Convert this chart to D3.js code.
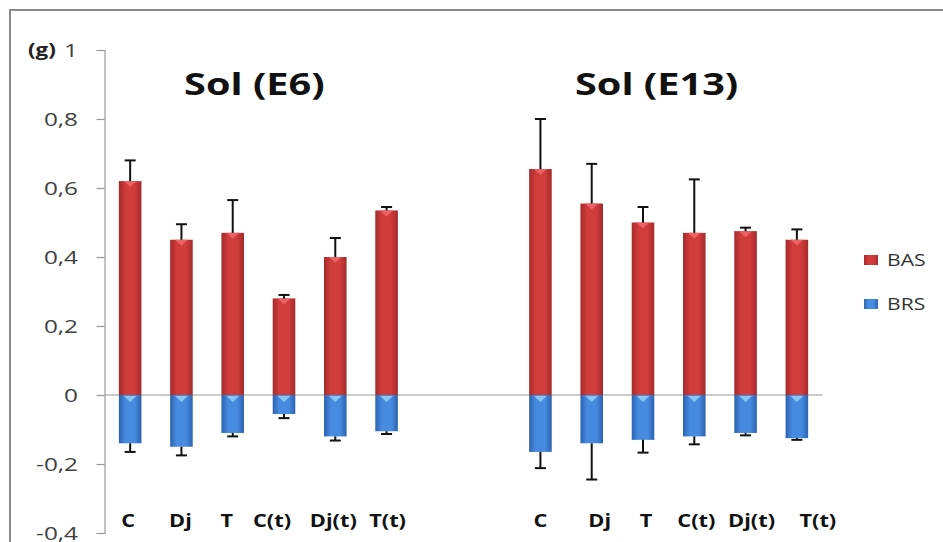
<!DOCTYPE html>
<html>
<head>
<meta charset="utf-8">
<script src="https://cdn.jsdelivr.net/npm/d3@7"></script>
<style>
  body { margin: 0; background: #fff; }
  svg { display: block; font-family: "Open Sans", "Noto Sans", sans-serif; }
</style>
</head>
<body>
<script>
// categories (two soil groups, two empty slots between them)
var groups = ["Sol (E6)", "Sol (E13)"];
var treatments = ["C", "Dj", "T", "C(t)", "Dj(t)", "T(t)"];
var seriesNames = ["BAS", "BRS"];

// values, left group then right group
var bas    = [0.62, 0.45, 0.47, 0.28, 0.40, 0.535, 0.655, 0.555, 0.50, 0.47, 0.475, 0.45];
var basErr = [0.06, 0.045, 0.095, 0.01, 0.055, 0.01, 0.145, 0.115, 0.045, 0.155, 0.01, 0.03];
var brs    = [-0.14, -0.15, -0.11, -0.055, -0.12, -0.105, -0.165, -0.14, -0.13, -0.12, -0.11, -0.125];
var brsErr = [0.025, 0.025, 0.01, 0.012, 0.012, 0.008, 0.047, 0.105, 0.037, 0.023, 0.007, 0.005];

var yTicks = [-0.4, -0.2, 0, 0.2, 0.4, 0.6, 0.8, 1];

var width = 943, height = 542;
var stretch = 1.28; // the reference text is drawn wide

//hand-placed labels in the original are not quite centred on the bars
var labelDx = [-2, -1, -6, -12, -2, 1, 0, 8, 3, 2, 6, 21];
var titleDx = [-4, -12];

var svg = d3.select("body").append("svg")
    .attr("width", width)
    .attr("height", height);

//place a text at (x,y) stretched horizontally
function place(sel, fx, fy){
    sel.attr("x", 0).attr("y", 0)
        .attr("transform", function(d, i){
            return "translate(" + fx(d, i) + "," + fy(d, i) + ") scale(" + stretch + ",1)";
        });
}

//gradients for the cylinder look
var defs = svg.append("defs");
function grad(id, edge, mid){
    var g = defs.append("linearGradient").attr("id", id)
        .attr("x1", "0%").attr("x2", "100%").attr("y1", "0%").attr("y2", "0%");
    g.append("stop").attr("offset", "0%").attr("stop-color", edge);
    g.append("stop").attr("offset", "30%").attr("stop-color", mid);
    g.append("stop").attr("offset", "70%").attr("stop-color", mid);
    g.append("stop").attr("offset", "100%").attr("stop-color", edge);
}
grad("gRed", "#a52a2a", "#d13c3c");
grad("gBlue", "#2c62b0", "#478be0");

//outer frame
svg.append("rect")
    .attr("x", 10).attr("y", 10)
    .attr("width", 945).attr("height", 545)
    .attr("fill", "none")
    .attr("stroke", "#8a8a8a")
    .attr("stroke-width", 2);

//build slot list: 6 + 2 empty + 6
var slots = [];
treatments.forEach(function(t, i){ slots.push({key: "a" + i, label: t, idx: i}); });
slots.push({key: "e0", label: "", idx: -1});
slots.push({key: "e1", label: "", idx: -1});
treatments.forEach(function(t, i){ slots.push({key: "b" + i, label: t, idx: i + 6}); });

var x = d3.scaleBand()
    .domain(slots.map(function(d){ return d.key; }))
    .range([104.5, 822.5])
    .paddingInner(0.56)
    .paddingOuter(0.28);

var y = d3.scaleLinear()
    .domain([-0.4, 1])
    .range([533, 50]);

//y axis
var yAxis = svg.append("g")
    .attr("transform", "translate(104.5,0)")
    .call(d3.axisLeft(y)
        .tickValues(yTicks)
        .tickSize(8)
        .tickFormat(function(d){
            return d3.format(".1f")(d).replace("−", "-").replace(".", ",").replace(/,0$/, "");
        }));
yAxis.select(".domain").attr("stroke", "#9a9a9a").attr("stroke-width", 1.2);
yAxis.selectAll(".tick line").attr("stroke", "#9a9a9a").attr("stroke-width", 1.2);
yAxis.selectAll(".tick text")
    .attr("x", 0).attr("dy", null)
    .attr("transform", "translate(-26.5,6.5) scale(" + stretch + ",1)")
    .attr("fill", "#404040")
    .style("font-size", "19px")
    .style("font-family", "'Open Sans', sans-serif");

//unit label
svg.append("text")
    .datum("(g)")
    .attr("font-weight", "bold")
    .attr("font-size", "17.5px")
    .attr("fill", "#222")
    .text(function(d){ return d; })
    .call(place, function(){ return 28; }, function(){ return y(1) + 6; });

//zero line
svg.append("line")
    .attr("x1", 104.5).attr("x2", 822.5)
    .attr("y1", y(0)).attr("y2", y(0))
    .attr("stroke", "#9a9a9a").attr("stroke-width", 1.2);

var barSlots = slots.filter(function(d){ return d.idx >= 0; });
var bw = x.bandwidth();

//BAS bars
svg.selectAll(".bas")
    .data(barSlots)
    .enter().append("rect")
    .attr("class", "bas")
    .attr("x", function(d){ return x(d.key); })
    .attr("y", function(d){ return y(bas[d.idx]); })
    .attr("width", bw)
    .attr("height", function(d){ return y(0) - y(bas[d.idx]); })
    .attr("fill", "url(#gRed)");

svg.selectAll(".basTip")
    .data(barSlots)
    .enter().append("path")
    .attr("class", "basTip")
    .attr("d", function(d){
        var x0 = x(d.key), yt = y(bas[d.idx]);
        return "M" + (x0 + bw * 0.22) + "," + yt + "L" + (x0 + bw * 0.78) + "," + yt +
            "L" + (x0 + bw * 0.5) + "," + (yt + 6) + "Z";
    })
    .attr("fill", "#ec6262");

//BRS bars
svg.selectAll(".brs")
    .data(barSlots)
    .enter().append("rect")
    .attr("class", "brs")
    .attr("x", function(d){ return x(d.key); })
    .attr("y", y(0))
    .attr("width", bw)
    .attr("height", function(d){ return y(brs[d.idx]) - y(0); })
    .attr("fill", "url(#gBlue)");

svg.selectAll(".brsTip")
    .data(barSlots)
    .enter().append("path")
    .attr("class", "brsTip")
    .attr("d", function(d){
        var x0 = x(d.key), yt = y(0) + 1;
        return "M" + (x0 + bw * 0.22) + "," + yt + "L" + (x0 + bw * 0.78) + "," + yt +
            "L" + (x0 + bw * 0.5) + "," + (yt + 6) + "Z";
    })
    .attr("fill", "#86c8f5");

//error bars
function errBar(cls, val, err, sign){
    var g = svg.selectAll("." + cls)
        .data(barSlots)
        .enter().append("g")
        .attr("class", cls)
        .attr("stroke", "#111")
        .attr("stroke-width", 2);
    g.append("line")
        .attr("x1", function(d){ return x(d.key) + bw / 2; })
        .attr("x2", function(d){ return x(d.key) + bw / 2; })
        .attr("y1", function(d){ return y(val[d.idx]); })
        .attr("y2", function(d){ return y(val[d.idx] + sign * err[d.idx]); });
    g.append("line")
        .attr("x1", function(d){ return x(d.key) + bw / 2 - 5.5; })
        .attr("x2", function(d){ return x(d.key) + bw / 2 + 5.5; })
        .attr("y1", function(d){ return y(val[d.idx] + sign * err[d.idx]); })
        .attr("y2", function(d){ return y(val[d.idx] + sign * err[d.idx]); });
}
errBar("basErr", bas, basErr, 1);
errBar("brsErr", brs, brsErr, -1);

//category labels
svg.selectAll(".cat")
    .data(barSlots)
    .enter().append("text")
    .attr("class", "cat")
    .attr("text-anchor", "middle")
    .attr("font-weight", "bold")
    .attr("font-size", "17px")
    .attr("fill", "#111")
    .text(function(d){ return d.label; })
    .call(place, function(d){ return x(d.key) + bw / 2 + labelDx[d.idx]; }, function(){ return 527; });

//group titles
svg.selectAll(".title")
    .data(groups)
    .enter().append("text")
    .attr("class", "title")
    .attr("text-anchor", "middle")
    .attr("font-weight", "bold")
    .attr("font-size", "31px")
    .attr("fill", "#111")
    .text(function(d){ return d; })
    .call(place, function(d, i){
        var first = barSlots[i * 6], last = barSlots[i * 6 + 5];
        return (x(first.key) + x(last.key) + bw) / 2 + titleDx[i];
    }, function(){ return 95; });

//legend
var legend = svg.selectAll(".legend")
    .data(seriesNames)
    .enter().append("g")
    .attr("class", "legend")
    .attr("transform", function(d, i){ return "translate(864," + (255 + i * 44) + ")"; });
legend.append("rect")
    .attr("width", 14).attr("height", 10)
    .attr("fill", function(d, i){ return i === 0 ? "url(#gRed)" : "url(#gBlue)"; });
legend.append("text")
    .attr("font-size", "16.5px")
    .attr("fill", "#333")
    .text(function(d){ return d; })
    .call(place, function(){ return 23; }, function(){ return 11; });
</script>
</body>
</html>
